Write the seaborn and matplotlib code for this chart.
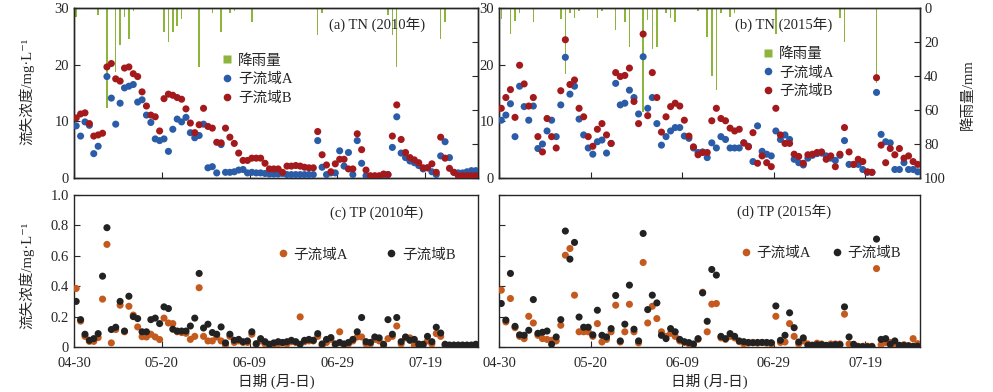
import numpy as np
import pandas as pd
import matplotlib
matplotlib.use("Agg")
import matplotlib.pyplot as plt
from matplotlib.lines import Line2D
import seaborn as sns

# ---------------- data (day 0 = 04-30, daily samples) ----------------
days = list(range(92))
N = None

tn2010_a = [9.2, 7.4, 9.9, 9.3, 4.3, 5.6, N, 17.9, 14.1, 9.5,
            13.2, 15.9, 16.2, 16.5, 13.4, 13.8, 11.1, 9.8, 6.9, 6.6,
            6.9, 4.7, 8.6, 10.4, 9.9, 10.7, 8.0, 7.1, 7.5, 9.5,
            1.8, 2.0, 0.9, 5.9, 1.0, 1.0, 1.1, 1.4, 1.5, 0.9,
            1.0, 0.9, 0.9, 0.8, 0.7, 0.7, 0.7, 0.8, 0.6, 0.6,
            0.6, 0.6, 0.6, 0.6, 0.6, 6.6, 1.9, 0.6, 0.9, 0.9,
            4.8, 2.1, 4.5, 0.6, 6.6, 2.6, 0.4, 0.3, 0.3, 0.3,
            0.5, 0.6, 5.4, 10.8, 4.4, 3.6, 3.0, 2.7, 2.2, 1.6,
            1.8, 1.1, 0.6, 3.9, 6.4, 3.6, 1.0, 0.9, 0.9, 1.1,
            1.3, 1.3]
tn2010_b = [10.6, 11.3, 11.5, 9.6, 7.4, 7.6, 7.9, 19.6, 20.2, 17.5,
            17.1, 19.4, 19.6, 18.4, 17.9, 15.2, 12.7, 11.1, 10.8, 8.3,
            14.0, 14.8, 14.6, 14.2, 13.9, 12.2, 9.7, 8.0, 9.4, 12.3,
            9.1, 8.8, 6.3, 6.2, 8.8, 7.2, 6.1, 4.4, 3.1, 3.1,
            3.5, 3.5, 3.5, 2.6, 1.6, 1.6, 1.6, 1.0, 2.1, 2.1,
            2.2, 2.1, 1.9, 1.8, 1.8, 8.2, 4.1, 2.3, 1.1, 2.5,
            3.3, 3.3, 1.6, 1.6, 7.8, 5.0, 1.4, 0.4, 0.4, 0.4,
            0.7, 0.6, 7.4, 12.9, 6.8, 4.5, 3.6, 3.2, 2.7, 1.8,
            1.8, 2.5, 1.0, 7.2, 3.5, 1.7, 1.0, 0.4, 0.4, 0.4,
            0.4, 0.4]
tn2015_a = [10.2, 11.1, 13.1, 7.3, 16.2, 12.6, 10.2, 12.7, 5.2, 6.0,
            8.3, 10.2, 7.3, 12.9, 21.3, 14.8, 16.2, 10.4, 7.6, 5.3,
            4.2, 6.4, 6.7, 4.4, 6.1, 16.7, 12.9, 13.2, 15.5, 14.2,
            11.3, 21.4, 12.3, 14.2, 9.6, 5.8, 7.3, 8.3, 8.9, 8.9,
            7.4, 7.0, 5.3, 4.5, 4.6, 3.6, 6.2, 5.3, 7.3, 6.8,
            5.3, 5.3, 5.3, 6.2, 5.6, 2.9, 9.2, 4.7, 4.2, 3.9,
            8.3, 6.8, 7.6, 6.8, 3.3, 2.7, 2.3, 3.5, 4.0, 4.3,
            4.4, 3.9, 3.5, 3.1, 4.0, 6.6, 2.4, 2.4, 2.4, 1.5,
            1.0, 1.0, 15.1, 7.7, 6.4, 6.2, 1.5, 1.5, 2.7, 1.5,
            1.5, 1.1]
tn2015_b = [12.3, 14.2, 15.6, 10.7, 19.9, 16.6, 12.7, 14.2, 7.3, 4.6,
            10.5, 7.3, 5.3, 15.4, 24.4, 16.5, 17.3, 12.3, 10.8, 7.3,
            5.6, 8.6, 9.6, 7.6, 6.1, 18.6, 17.9, 18.1, 19.4, 13.5,
            9.6, 25.4, 11.0, 18.6, 14.2, 8.1, 10.8, 12.6, 13.2, 12.7,
            10.2, 7.4, 5.5, 4.1, 4.5, 4.5, 10.1, 12.3, 10.5, 10.1,
            8.8, 8.3, 8.6, 6.2, 5.5, 8.0, 2.6, 3.9, 2.7, 2.0,
            12.3, 7.6, 6.1, 6.1, 4.2, 3.8, 2.6, 4.1, 4.2, 4.5,
            4.6, 3.3, 3.9, 2.0, 4.2, 8.9, 4.6, 2.4, 3.3, 2.9,
            1.1, 1.0, 17.7, 5.8, 2.7, 5.2, 4.1, 5.2, 3.5, 3.9,
            2.9, 2.4]

tp2010_a = [0.385, 0.17, 0.07, 0.037, 0.037, 0.062, 0.315, 0.675, 0.027, 0.115,
            0.275, 0.10, 0.268, 0.21, 0.132, 0.068, 0.066, 0.084, 0.066, 0.049,
            0.19, 0.158, 0.154, 0.10, 0.095, 0.09, 0.05, 0.07, 0.39, 0.07,
            0.04, 0.04, 0.066, 0.04, 0.012, 0.07, 0.03, 0.04, 0.03, 0.03,
            0.084, 0.015, 0.04, 0.02, 0.015, 0.02, 0.02, 0.025, 0.02, 0.035,
            0.03, 0.198, 0.035, 0.04, 0.04, 0.07, 0.01, 0.03, 0.05, 0.015,
            0.10, 0.003, 0.02, 0.04, 0.066, 0.066, 0.02, 0.02, 0.05, 0.04,
            0.01, 0.055, 0.07, 0.138, 0.02, 0.06, 0.06, 0.01, 0.02, 0.01,
            0.04, 0.02, 0.088, 0.07, 0.01, 0.005, 0.005, 0.005, 0.005, 0.005,
            0.005, 0.01]
tp2010_b = [0.30, 0.18, 0.084, 0.044, 0.055, 0.088, 0.466, 0.785, 0.115, 0.13,
            0.30, 0.105, 0.334, 0.20, 0.187, 0.10, 0.10, 0.18, 0.19, 0.154,
            0.264, 0.253, 0.117, 0.105, 0.105, 0.105, 0.138, 0.19, 0.484, 0.125,
            0.15, 0.095, 0.084, 0.132, 0.027, 0.084, 0.044, 0.05, 0.035, 0.04,
            0.10, 0.022, 0.055, 0.035, 0.018, 0.027, 0.035, 0.03, 0.035, 0.044,
            0.035, 0.018, 0.044, 0.05, 0.044, 0.088, 0.02, 0.05, 0.062, 0.02,
            0.03, 0.02, 0.03, 0.05, 0.10, 0.194, 0.035, 0.03, 0.066, 0.06,
            0.018, 0.18, 0.084, 0.194, 0.035, 0.066, 0.044, 0.05, 0.018, 0.018,
            0.07, 0.035, 0.13, 0.092, 0.018, 0.013, 0.013, 0.013, 0.013, 0.013,
            0.013, 0.018]
tp2015_a = [0.374, 0.165, 0.319, 0.127, 0.07, 0.055, 0.202, 0.158, 0.077, 0.055,
            0.05, 0.044, 0.04, 0.143, 0.604, 0.648, 0.341, 0.10, 0.10, 0.10,
            0.07, 0.154, 0.033, 0.05, 0.10, 0.275, 0.033, 0.10, 0.281, 0.10,
            0.027, 0.556, 0.158, 0.268, 0.187, 0.10, 0.07, 0.09, 0.07, 0.04,
            0.03, 0.02, 0.015, 0.05, 0.36, 0.10, 0.282, 0.286, 0.06, 0.05,
            0.07, 0.06, 0.035, 0.02, 0.025, 0.03, 0.025, 0.03, 0.025, 0.02,
            0.202, 0.03, 0.033, 0.154, 0.07, 0.02, 0.04, 0.02, 0.01, 0.025,
            0.02, 0.01, 0.02, 0.02, 0.02, 0.216, 0.02, 0.015, 0.005, 0.005,
            0.005, 0.005, 0.516, 0.015, 0.03, 0.03, 0.02, 0.01, 0.015, 0.01,
            0.055, 0.022]
tp2015_b = [0.286, 0.177, 0.484, 0.136, 0.08, 0.077, 0.11, 0.312, 0.09, 0.097,
            0.105, 0.018, 0.066, 0.18, 0.763, 0.578, 0.688, 0.197, 0.13, 0.13,
            0.08, 0.242, 0.077, 0.066, 0.121, 0.339, 0.04, 0.15, 0.407, 0.117,
            0.04, 0.747, 0.246, 0.341, 0.29, 0.077, 0.055, 0.121, 0.10, 0.05,
            0.035, 0.029, 0.02, 0.055, 0.356, 0.169, 0.51, 0.473, 0.07, 0.055,
            0.088, 0.07, 0.04, 0.035, 0.03, 0.028, 0.03, 0.03, 0.03, 0.028,
            0.27, 0.044, 0.077, 0.225, 0.127, 0.033, 0.06, 0.011, 0.012, 0.015,
            0.015, 0.011, 0.011, 0.015, 0.015, 0.264, 0.066, 0.018, 0.002, 0.002,
            0.002, 0.002, 0.71, 0.05, 0.055, 0.018, 0.04, 0.011, 0.01, 0.007,
            0.005, 0.005]

rain2010_days = [0, 5, 7, 9, 10, 11, 12, 13, 20, 21, 22, 23, 24, 28, 31, 33, 35, 36,
                 40, 55, 56, 71, 72, 73, 83, 84]
rain2010_mm = [5, 4, 59, 37.5, 22, 5, 18, 2, 14, 20, 14, 10.6, 6.7, 34.5, 3, 14, 3, 2,
               8, 16, 3, 4, 16, 34.5, 18, 8]
rain2015_days = [0, 2, 3, 4, 7, 13, 14, 15, 16, 17, 21, 22, 25, 27, 28, 31, 32, 33, 34,
                 36, 37, 38, 43, 45, 46, 47, 48, 50, 51, 60, 74, 75, 82]
rain2015_mm = [6.5, 15, 7.6, 3, 8, 6.5, 39, 3, 6, 1.6, 6, 2, 13, 8, 22.7, 61, 7, 24, 23,
               3, 6, 8, 2, 17, 40, 48, 3, 5, 3, 15, 6, 20, 44]

tick_md = ["04-30", "05-20", "06-09", "06-29", "07-19"]
label_a, label_b, label_rain = "子流域A", "子流域B", "降雨量"
conc_label = "流失浓度/mg·L⁻¹"

# ---------------- style ----------------
sns.set_style("ticks")
FONTS = ["Liberation Serif", "Noto Sans CJK SC", "DejaVu Serif"]
plt.rcParams["font.family"] = FONTS
plt.rcParams["axes.linewidth"] = 1.0

C_BLUE, C_RED = "#2a5ca8", "#a3191c"
C_ORANGE, C_BLACK = "#c45a1e", "#222222"
C_GREEN = "#8db53c"
FS = 10.5

W, H = 993, 392
fig = plt.figure(figsize=(W / 100, H / 100), dpi=100)


def px_axes(x0, y0, x1, y1):
    return fig.add_axes([x0 / W, 1 - y1 / H, (x1 - x0) / W, (y1 - y0) / H])


def to_dates(year, dlist):
    base = pd.Timestamp(f"{year}-04-30 12:00")
    return [base + pd.Timedelta(days=d) for d in dlist]


def setup_x(ax, year, labels):
    ax.set_xlim(pd.Timestamp(f"{year}-04-30"), pd.Timestamp(f"{year}-07-31"))
    ax.set_xticks([pd.Timestamp(f"{year}-{m}") for m in tick_md])
    if labels:
        ax.set_xticklabels(tick_md)
    else:
        ax.set_xticklabels([])
    ax.set_xlabel("")


def scatter(ax, year, a, b, ca, cb):
    df = pd.DataFrame({
        "date": to_dates(year, days) * 2,
        "val": a + b,
        "grp": [label_a] * len(a) + [label_b] * len(b),
    }).dropna()
    df["val"] = df["val"].astype(float)
    sns.scatterplot(data=df, x="date", y="val", hue="grp",
                    palette={label_a: ca, label_b: cb}, s=26, linewidth=0,
                    legend=False, ax=ax, zorder=3)
    ax.set_ylabel("")


def tn_panel(rect, year, a, b, rdays, rmm, title, title_xy, leg_xy, right_labels):
    ax = px_axes(*rect)
    scatter(ax, year, a, b, C_BLUE, C_RED)
    ax.set_ylim(0, 30)
    ax.set_yticks([0, 10, 20, 30])
    setup_x(ax, year, False)
    ax2 = ax.twinx()
    ax2.bar(to_dates(year, rdays), rmm, width=0.32, color=C_GREEN, linewidth=0)
    ax2.set_ylim(100, 0)
    ax2.set_yticks([0, 20, 40, 60, 80, 100])
    ax2.tick_params(direction="in", length=4, labelsize=FS, pad=3)
    if not right_labels:
        ax2.set_yticklabels([])
    setup_x(ax2, year, False)
    ax.set_zorder(ax2.get_zorder() + 1)
    ax.patch.set_visible(False)
    ax.tick_params(direction="in", length=4, labelsize=FS, top=False, right=False)
    ax.text(*title_xy, title, transform=ax.transAxes, fontsize=FS,
            ha="center", va="center")
    handles = [Line2D([], [], ls="", marker="s", mfc=C_GREEN, mec="none", ms=6),
               Line2D([], [], ls="", marker="o", mfc=C_BLUE, mec="none", ms=5.5),
               Line2D([], [], ls="", marker="o", mfc=C_RED, mec="none", ms=5.5)]
    ax.legend(handles, [label_rain, label_a, label_b], loc="upper left",
              bbox_to_anchor=leg_xy, frameon=False, fontsize=FS, handlelength=0.8,
              handletextpad=0.35, labelspacing=0.36, borderpad=0, borderaxespad=0)
    return ax, ax2


def tp_panel(rect, year, a, b, title, title_xy, leg_xy, colsp, ylabels):
    ax = px_axes(*rect)
    scatter(ax, year, a, b, C_ORANGE, C_BLACK)
    ax.set_ylim(0, 1.0)
    ax.set_yticks([0, 0.2, 0.4, 0.6, 0.8, 1.0])
    if ylabels:
        ax.set_yticklabels(["0", "0.2", "0.4", "0.6", "0.8", "1.0"])
    else:
        ax.set_yticklabels([])
    setup_x(ax, year, True)
    ax.tick_params(direction="in", length=4, labelsize=FS, top=False, right=False)
    ax.tick_params(axis="x", pad=7)
    ax.text(*title_xy, title, transform=ax.transAxes, fontsize=FS,
            ha="center", va="center")
    handles = [Line2D([], [], ls="", marker="o", mfc=C_ORANGE, mec="none", ms=5.5),
               Line2D([], [], ls="", marker="o", mfc=C_BLACK, mec="none", ms=5.5)]
    ax.legend(handles, [label_a, label_b], loc="upper left", ncol=2,
              bbox_to_anchor=leg_xy, frameon=False, fontsize=FS, handlelength=0.8,
              handletextpad=0.35, columnspacing=colsp, borderpad=0, borderaxespad=0)
    ax.set_xlabel("日期 (月-日)", fontsize=FS, labelpad=3)
    return ax


tn_panel((74, 8, 478, 178), 2010, tn2010_a, tn2010_b, rain2010_days, rain2010_mm,
         "(a) TN (2010年)", (0.75, 0.9), (0.364, 0.73), False)
tn_panel((499, 8, 920, 178), 2015, tn2015_a, tn2015_b, rain2015_days, rain2015_mm,
         "(b) TN (2015年)", (0.677, 0.9), (0.625, 0.77), True)
tp_panel((74, 195, 478, 347), 2010, tp2010_a, tp2010_b,
         "(c) TP (2010年)", (0.75, 0.88), (0.502, 0.65), 2.55, True)
tp_panel((499, 195, 920, 347), 2015, tp2015_a, tp2015_b,
         "(d) TP (2015年)", (0.677, 0.885), (0.572, 0.66), 1.35, False)

fig.text(27 / W, 1 - 91 / H, conc_label, rotation=90, fontsize=FS,
         ha="center", va="center")
fig.text(27 / W, 1 - 275 / H, conc_label, rotation=90, fontsize=FS,
         ha="center", va="center")
fig.text(968 / W, 1 - 95 / H, "降雨量/mm", rotation=90, fontsize=FS,
         ha="center", va="center")

fig.savefig("out.png", dpi=100)
